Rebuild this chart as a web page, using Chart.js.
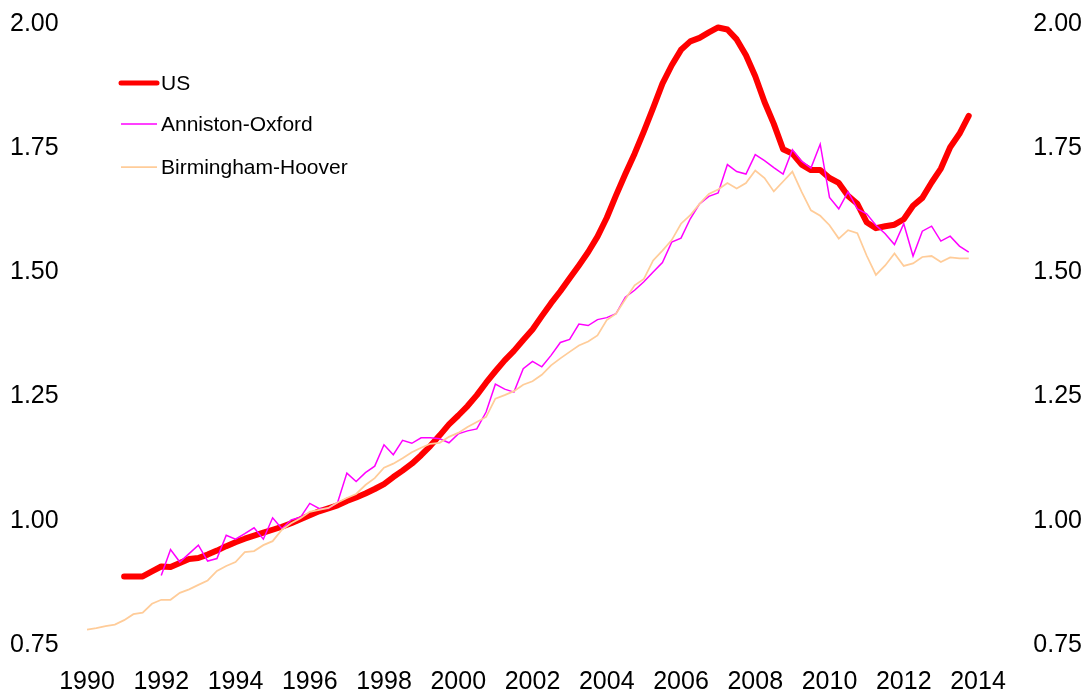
<!DOCTYPE html>
<html>
<head>
<meta charset="utf-8">
<script src="https://cdn.jsdelivr.net/npm/chart.js@4/dist/chart.umd.min.js"></script>
<style>
  html, body { margin: 0; padding: 0; background: #ffffff; }
  #wrap { width: 1086px; height: 695px; position: relative; }
</style>
</head>
<body>
<div id="wrap"><canvas id="c" width="1086" height="695"></canvas></div>
<script>
// Quarterly categories, 1990 Q1 .. 2014 Q1
const categories = [
  "1990 Q1","1990 Q2","1990 Q3","1990 Q4","1991 Q1","1991 Q2","1991 Q3","1991 Q4",
  "1992 Q1","1992 Q2","1992 Q3","1992 Q4","1993 Q1","1993 Q2","1993 Q3","1993 Q4",
  "1994 Q1","1994 Q2","1994 Q3","1994 Q4","1995 Q1","1995 Q2","1995 Q3","1995 Q4",
  "1996 Q1","1996 Q2","1996 Q3","1996 Q4","1997 Q1","1997 Q2","1997 Q3","1997 Q4",
  "1998 Q1","1998 Q2","1998 Q3","1998 Q4","1999 Q1","1999 Q2","1999 Q3","1999 Q4",
  "2000 Q1","2000 Q2","2000 Q3","2000 Q4","2001 Q1","2001 Q2","2001 Q3","2001 Q4",
  "2002 Q1","2002 Q2","2002 Q3","2002 Q4","2003 Q1","2003 Q2","2003 Q3","2003 Q4",
  "2004 Q1","2004 Q2","2004 Q3","2004 Q4","2005 Q1","2005 Q2","2005 Q3","2005 Q4",
  "2006 Q1","2006 Q2","2006 Q3","2006 Q4","2007 Q1","2007 Q2","2007 Q3","2007 Q4",
  "2008 Q1","2008 Q2","2008 Q3","2008 Q4","2009 Q1","2009 Q2","2009 Q3","2009 Q4",
  "2010 Q1","2010 Q2","2010 Q3","2010 Q4","2011 Q1","2011 Q2","2011 Q3","2011 Q4",
  "2012 Q1","2012 Q2","2012 Q3","2012 Q4","2013 Q1","2013 Q2","2013 Q3","2013 Q4",
  "2014 Q1"
];

const xTickLabels = ["1990","1992","1994","1996","1998","2000","2002","2004","2006","2008","2010","2012","2014"];
const yTickValues = [0.75, 1.00, 1.25, 1.50, 1.75, 2.00];

const usValues = [
  null, null, null, null, 0.888, 0.888, 0.888, 0.898,
  0.908, 0.907, 0.915, 0.923, 0.925, 0.932, 0.940, 0.949,
  0.957, 0.964, 0.970, 0.976, 0.982, 0.988, 0.995, 1.003,
  1.011, 1.019, 1.025, 1.031, 1.040, 1.047, 1.055, 1.064,
  1.074, 1.088, 1.101, 1.115, 1.132, 1.151, 1.172, 1.194,
  1.212, 1.231, 1.253, 1.278, 1.301, 1.323, 1.342, 1.364,
  1.385, 1.412, 1.438, 1.462, 1.488, 1.514, 1.541, 1.572,
  1.610, 1.655, 1.698, 1.739, 1.784, 1.831, 1.880, 1.917,
  1.948, 1.965, 1.972, 1.983, 1.993, 1.989, 1.969, 1.937,
  1.895, 1.843, 1.799, 1.748, 1.739, 1.717, 1.706, 1.706,
  1.690, 1.680, 1.654, 1.638, 1.601, 1.589, 1.593, 1.596,
  1.607, 1.634, 1.650, 1.681, 1.709, 1.752, 1.779, 1.815,
  null
];

const annistonValues = [
  null, null, null, null, null, null, null, null,
  0.890, 0.942, 0.917, 0.934, 0.951, 0.919, 0.924, 0.971,
  0.963, 0.974, 0.986, 0.963, 1.006, 0.984, 1.002, 1.007,
  1.035, 1.025, 1.025, 1.037, 1.096, 1.079, 1.097, 1.110,
  1.153, 1.133, 1.162, 1.156, 1.167, 1.167, 1.165, 1.157,
  1.175, 1.181, 1.185, 1.219, 1.275, 1.265, 1.259, 1.306,
  1.321, 1.310, 1.333, 1.359, 1.365, 1.396, 1.393, 1.405,
  1.409, 1.417, 1.450, 1.464, 1.481, 1.501, 1.520, 1.561,
  1.569, 1.608, 1.638, 1.653, 1.660, 1.717, 1.703, 1.698,
  1.737, 1.725, 1.711, 1.698, 1.747, 1.724, 1.710, 1.758,
  1.651, 1.628, 1.662, 1.628, 1.618, 1.595, 1.578, 1.556,
  1.598, 1.533, 1.583, 1.593, 1.563, 1.573, 1.553, 1.541,
  null
];

const birminghamValues = [
  0.781, 0.784, 0.788, 0.791, 0.800, 0.812, 0.815, 0.833,
  0.841, 0.841, 0.855, 0.862, 0.871, 0.880, 0.899, 0.909,
  0.917, 0.937, 0.939, 0.951, 0.959, 0.982, 0.995, 1.005,
  1.018, 1.022, 1.026, 1.037, 1.046, 1.054, 1.072, 1.086,
  1.107, 1.115, 1.126, 1.138, 1.147, 1.155, 1.157, 1.169,
  1.177, 1.189, 1.199, 1.209, 1.246, 1.253, 1.261, 1.274,
  1.281, 1.294, 1.313, 1.327, 1.340, 1.353, 1.361, 1.373,
  1.404, 1.417, 1.446, 1.474, 1.487, 1.524, 1.544, 1.565,
  1.598, 1.615, 1.638, 1.658, 1.667, 1.680, 1.669, 1.680,
  1.705, 1.690, 1.663, 1.683, 1.703, 1.662, 1.625, 1.614,
  1.595, 1.568, 1.585, 1.579, 1.534, 1.495, 1.514, 1.538,
  1.513, 1.518, 1.531, 1.533, 1.521, 1.530, 1.528, 1.528,
  null
];

const FONT_FAMILY = '"Liberation Sans Narrow", "Arial Narrow", "Liberation Sans", Arial, sans-serif';

const legendPlugin = {
  id: 'insideLegend',
  afterDraw(chart) {
    const ctx = chart.ctx;
    const rows = [
      { idx: 0, y: 83 },
      { idx: 1, y: 124 },
      { idx: 2, y: 167 }
    ];
    ctx.save();
    ctx.font = '21px ' + FONT_FAMILY;
    ctx.textBaseline = 'middle';
    ctx.textAlign = 'left';
    rows.forEach(r => {
      const ds = chart.data.datasets[r.idx];
      ctx.strokeStyle = ds.borderColor;
      ctx.lineWidth = r.idx === 0 ? 5 : ds.borderWidth;
      ctx.lineCap = r.idx === 0 ? 'round' : 'butt';
      ctx.beginPath();
      ctx.moveTo(121, r.y);
      ctx.lineTo(157, r.y);
      ctx.stroke();
      ctx.fillStyle = '#000000';
      ctx.fillText(ds.label, 161, r.y + 1);
    });
    ctx.restore();
  }
};

new Chart(document.getElementById('c'), {
  type: 'line',
  data: {
    labels: categories,
    datasets: [
      { label: 'US', data: usValues, borderColor: '#FF0000', borderWidth: 6,
        pointRadius: 0, tension: 0, borderCapStyle: 'round', borderJoinStyle: 'round', order: 3, yAxisID: 'y' },
      { label: 'Anniston-Oxford', data: annistonValues, borderColor: '#FF00FF', borderWidth: 1.5,
        pointRadius: 0, tension: 0, order: 2, yAxisID: 'y' },
      { label: 'Birmingham-Hoover', data: birminghamValues, borderColor: '#FFCC99', borderWidth: 1.75,
        pointRadius: 0, tension: 0, order: 1, yAxisID: 'y' }
    ]
  },
  options: {
    responsive: false,
    animation: false,
    devicePixelRatio: 1,
    layout: { padding: { top: 24, bottom: 0, left: 10, right: 4 } },
    plugins: { legend: { display: false }, tooltip: { enabled: false } },
    scales: {
      x: {
        type: 'category',
        offset: false,
        grid: { display: false, drawTicks: false },
        border: { display: false },
        afterFit(scale) { scale.height = 50; },
        ticks: {
          autoSkip: false, maxRotation: 0, minRotation: 0, padding: 22,
          color: '#000000',
          font: { family: FONT_FAMILY, size: 25 },
          callback(value) {
            const lab = this.getLabelForValue(value);
            const yr = lab.slice(0, 4);
            return (lab.endsWith('Q1') && xTickLabels.includes(yr)) ? yr : '';
          }
        }
      },
      y: {
        position: 'left', min: 0.75, max: 2.0,
        grid: { display: false, drawTicks: false },
        border: { display: false },
        afterFit(scale) { scale.width = 77; },
        afterBuildTicks(scale) { scale.ticks = yTickValues.map(v => ({ value: v })); },
        ticks: { padding: 0, crossAlign: 'far', color: '#000000', font: { family: FONT_FAMILY, size: 25 },
                 callback: v => Number(v).toFixed(2) }
      },
      y2: {
        position: 'right', min: 0.75, max: 2.0, display: true,
        grid: { display: false, drawTicks: false },
        border: { display: false },
        afterFit(scale) { scale.width = 104; },
        afterBuildTicks(scale) { scale.ticks = yTickValues.map(v => ({ value: v })); },
        ticks: { padding: 0, crossAlign: 'far', color: '#000000', font: { family: FONT_FAMILY, size: 25 },
                 callback: v => Number(v).toFixed(2) }
      }
    }
  },
  plugins: [legendPlugin]
});
</script>
</body>
</html>
